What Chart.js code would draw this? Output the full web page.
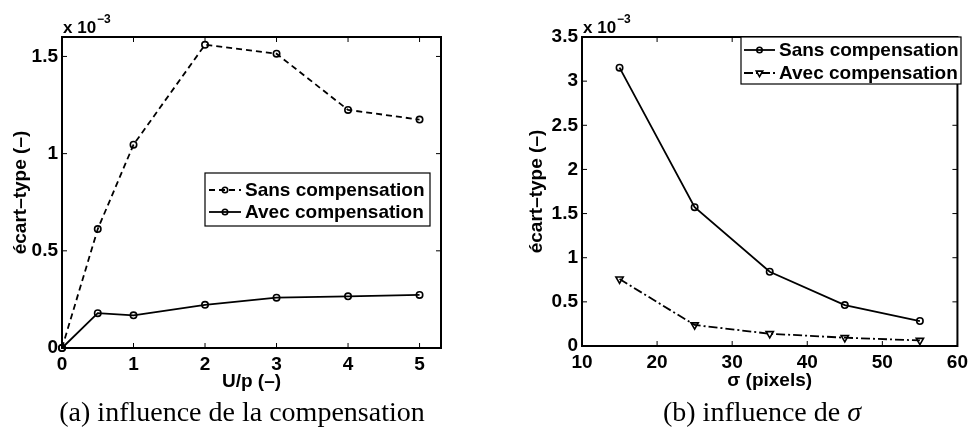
<!DOCTYPE html>
<html>
<head>
<meta charset="utf-8">
<title>Ecart-type</title>
<script src="https://cdn.jsdelivr.net/npm/chart.js@4.4.0/dist/chart.umd.min.js"></script>
<style>
  html, body { margin: 0; padding: 0; background: #fff; }
  #page { position: relative; width: 971px; height: 432px; overflow: hidden; }
  .panel { position: absolute; top: 0; height: 400px; }
  .caption {
    position: absolute; top: 398px; height: 30px; line-height: 28px;
    font-family: "Liberation Serif", "Times New Roman", serif; font-size: 28px;
    text-align: center; white-space: nowrap; color: #000;
  }
</style>
</head>
<body>
<div id="page">
  <div class="panel" style="left:0; width:485px;"><canvas id="chartA"></canvas></div>
  <div class="panel" style="left:486px; width:487px;"><canvas id="chartB"></canvas></div>
  <div class="caption" style="left:42px; width:400px;">(a) influence de la compensation</div>
  <div class="caption" style="left:612px; width:300px;">(b) influence de <i>σ</i></div>
</div>
<script>
// values, in units of 10^-3
const uRatio = [0, 0.5, 1, 2, 3, 4, 5];
const sansCompA = [0, 0.612, 1.046, 1.560, 1.514, 1.225, 1.175];
const avecCompA = [0, 0.179, 0.168, 0.222, 0.259, 0.266, 0.273];

const sigmaPx = [15, 25, 35, 45, 55];
const sansCompB = [3.153, 1.573, 0.841, 0.464, 0.283];
const avecCompB = [0.758, 0.238, 0.139, 0.094, 0.063];

const seriesLabels = ['Sans compensation', 'Avec compensation'];
const xTicksA = [0, 1, 2, 3, 4, 5];
const yTicksA = [0, 0.5, 1, 1.5];
const xTicksB = [10, 20, 30, 40, 50, 60];
const yTicksB = [0, 0.5, 1, 1.5, 2, 2.5, 3, 3.5];

const SANS = '"Liberation Sans", Arial, Helvetica, sans-serif';
Chart.defaults.font.family = SANS;
Chart.defaults.color = '#000';

const pts = (xs, ys) => xs.map((x, i) => ({ x, y: ys[i] }));

function lineSet(label, xs, ys, dash, marker) {
    const tri = marker === 'down';
    return {
        label,
        data: pts(xs, ys),
        borderColor: '#000',
        borderWidth: 1.8,
        borderDash: dash,
        pointStyle: tri ? 'triangle' : 'circle',
        pointRotation: tri ? 180 : 0,
        pointRadius: tri ? 4.2 : 3.2,
        pointBorderWidth: 1.6,
        pointBorderColor: '#000',
        pointBackgroundColor: 'rgba(0,0,0,0)',
        tension: 0,
        fill: false,
        clip: false
    };
}

// axes box with inward ticks, exponent label and the boxed legend
const matlabLook = {
    id: 'matlabLook',
    afterDraw(chart, args, opts) {
        const { ctx, chartArea: a, scales } = chart;
        ctx.save();
        ctx.strokeStyle = '#000';

        // ticks
        ctx.lineWidth = 1;
        ctx.beginPath();
        scales.x.ticks.forEach(t => {
            const p = scales.x.getPixelForValue(t.value);
            ctx.moveTo(p, a.bottom); ctx.lineTo(p, a.bottom - 5);
            ctx.moveTo(p, a.top); ctx.lineTo(p, a.top + 5);
        });
        scales.y.ticks.forEach(t => {
            const p = scales.y.getPixelForValue(t.value);
            ctx.moveTo(a.left, p); ctx.lineTo(a.left + 5, p);
            ctx.moveTo(a.right, p); ctx.lineTo(a.right - 5, p);
        });
        ctx.stroke();

        // box
        ctx.lineWidth = 2;
        ctx.strokeRect(a.left, a.top, a.right - a.left, a.bottom - a.top);

        // x 10^-3
        ctx.fillStyle = '#000';
        ctx.textBaseline = 'alphabetic';
        ctx.textAlign = 'left';
        ctx.font = 'bold 17px ' + SANS;
        const ex = a.left + 1;
        ctx.fillText('x 10', ex, 33);
        const w = ctx.measureText('x 10').width;
        ctx.font = 'bold 12px ' + SANS;
        ctx.fillText('\u22123', ex + w + 1, 23);

        // legend
        const L = opts.legend;
        ctx.fillStyle = '#fff';
        ctx.fillRect(L.x, L.y, L.w, L.h);
        ctx.lineWidth = 1.2;
        ctx.strokeRect(L.x, L.y, L.w, L.h);
        chart.data.datasets.forEach((ds, i) => {
            const cy = L.y + L.row0 + i * L.rowH;
            ctx.save();
            ctx.lineWidth = ds.borderWidth;
            ctx.setLineDash(ds.borderDash || []);
            ctx.beginPath();
            ctx.moveTo(L.x + L.lineFrom, cy);
            ctx.lineTo(L.x + L.lineTo, cy);
            ctx.stroke();
            ctx.setLineDash([]);
            ctx.lineWidth = ds.pointBorderWidth;
            ctx.fillStyle = 'rgba(0,0,0,0)';
            Chart.helpers.drawPoint(ctx, {
                pointStyle: ds.pointStyle,
                rotation: ds.pointRotation,
                radius: ds.pointRadius - 0.5,
                borderWidth: ds.pointBorderWidth
            }, L.x + (L.lineFrom + L.lineTo) / 2, cy);
            ctx.restore();
            ctx.fillStyle = '#000';
            ctx.font = 'bold 19px ' + SANS;
            ctx.textBaseline = 'middle';
            ctx.fillText(ds.label, L.x + L.textX, cy + 1);
        });
        ctx.restore();
    }
};

function axes(o) {
    const tickFont = { size: 19, weight: 'bold' };
    return {
        x: {
            type: 'linear', min: o.xMin, max: o.xMax,
            afterBuildTicks: s => { s.ticks = o.xTicks.map(v => ({ value: v })); },
            afterFit: s => { s.height = o.xH; },
            grid: { display: false, drawTicks: false },
            border: { display: false },
            ticks: { padding: 5, font: tickFont, maxRotation: 0, autoSkip: false, callback: v => String(v) },
            title: { display: true, text: o.xTitle, font: tickFont, padding: { top: 0, bottom: o.xTitlePad } }
        },
        y: {
            type: 'linear', min: o.yMin, max: o.yMax,
            afterBuildTicks: s => { s.ticks = o.yTicks.map(v => ({ value: v })); },
            afterFit: s => { s.width = o.yW; },
            grid: { display: false, drawTicks: false },
            border: { display: false },
            ticks: { padding: 4, font: tickFont, autoSkip: false, callback: v => String(v) },
            title: { display: true, text: 'écart\u2013type (\u2013)', font: tickFont, padding: { top: o.yTitlePad, bottom: 0 } }
        }
    };
}

function makeChart(id, datasets, scaleOpts, padding, legend) {
    return new Chart(document.getElementById(id), {
        type: 'line',
        data: { datasets },
        options: {
            responsive: true,
            maintainAspectRatio: false,
            animation: false,
            layout: { padding },
            scales: axes(scaleOpts),
            plugins: {
                legend: { display: false },
                tooltip: { enabled: false },
                matlabLook: { legend }
            }
        },
        plugins: [matlabLook]
    });
}

makeChart('chartA', [
    lineSet(seriesLabels[0], uRatio, sansCompA, [6, 4], 'circle'),
    lineSet(seriesLabels[1], uRatio, avecCompA, [], 'circle')
], {
    xMin: 0, xMax: 5.3, xTicks: xTicksA, xH: 52, xTitle: 'U/p (\u2013)', xTitlePad: 7,
    yMin: 0, yMax: 1.6, yTicks: yTicksA, yW: 62, yTitlePad: 9
}, { top: 37, right: 44, left: 0, bottom: 0 },
{ x: 205, y: 173, w: 225, h: 53, row0: 17, rowH: 22, lineFrom: 4, lineTo: 36, textX: 40 });

makeChart('chartB', [
    lineSet(seriesLabels[0], sigmaPx, sansCompB, [], 'circle'),
    lineSet(seriesLabels[1], sigmaPx, avecCompB, [9, 3, 2, 3], 'down')
], {
    xMin: 10, xMax: 60, xTicks: xTicksB, xH: 54, xTitle: '\u03c3 (pixels)', xTitlePad: 8,
    yMin: 0, yMax: 3.5, yTicks: yTicksB, yW: 96, yTitlePad: 39
}, { top: 37, right: 12, left: 0, bottom: 0 },
{ x: 255, y: 37, w: 220, h: 47, row0: 13, rowH: 23, lineFrom: 3, lineTo: 34, textX: 38 });
</script>
</body>
</html>
